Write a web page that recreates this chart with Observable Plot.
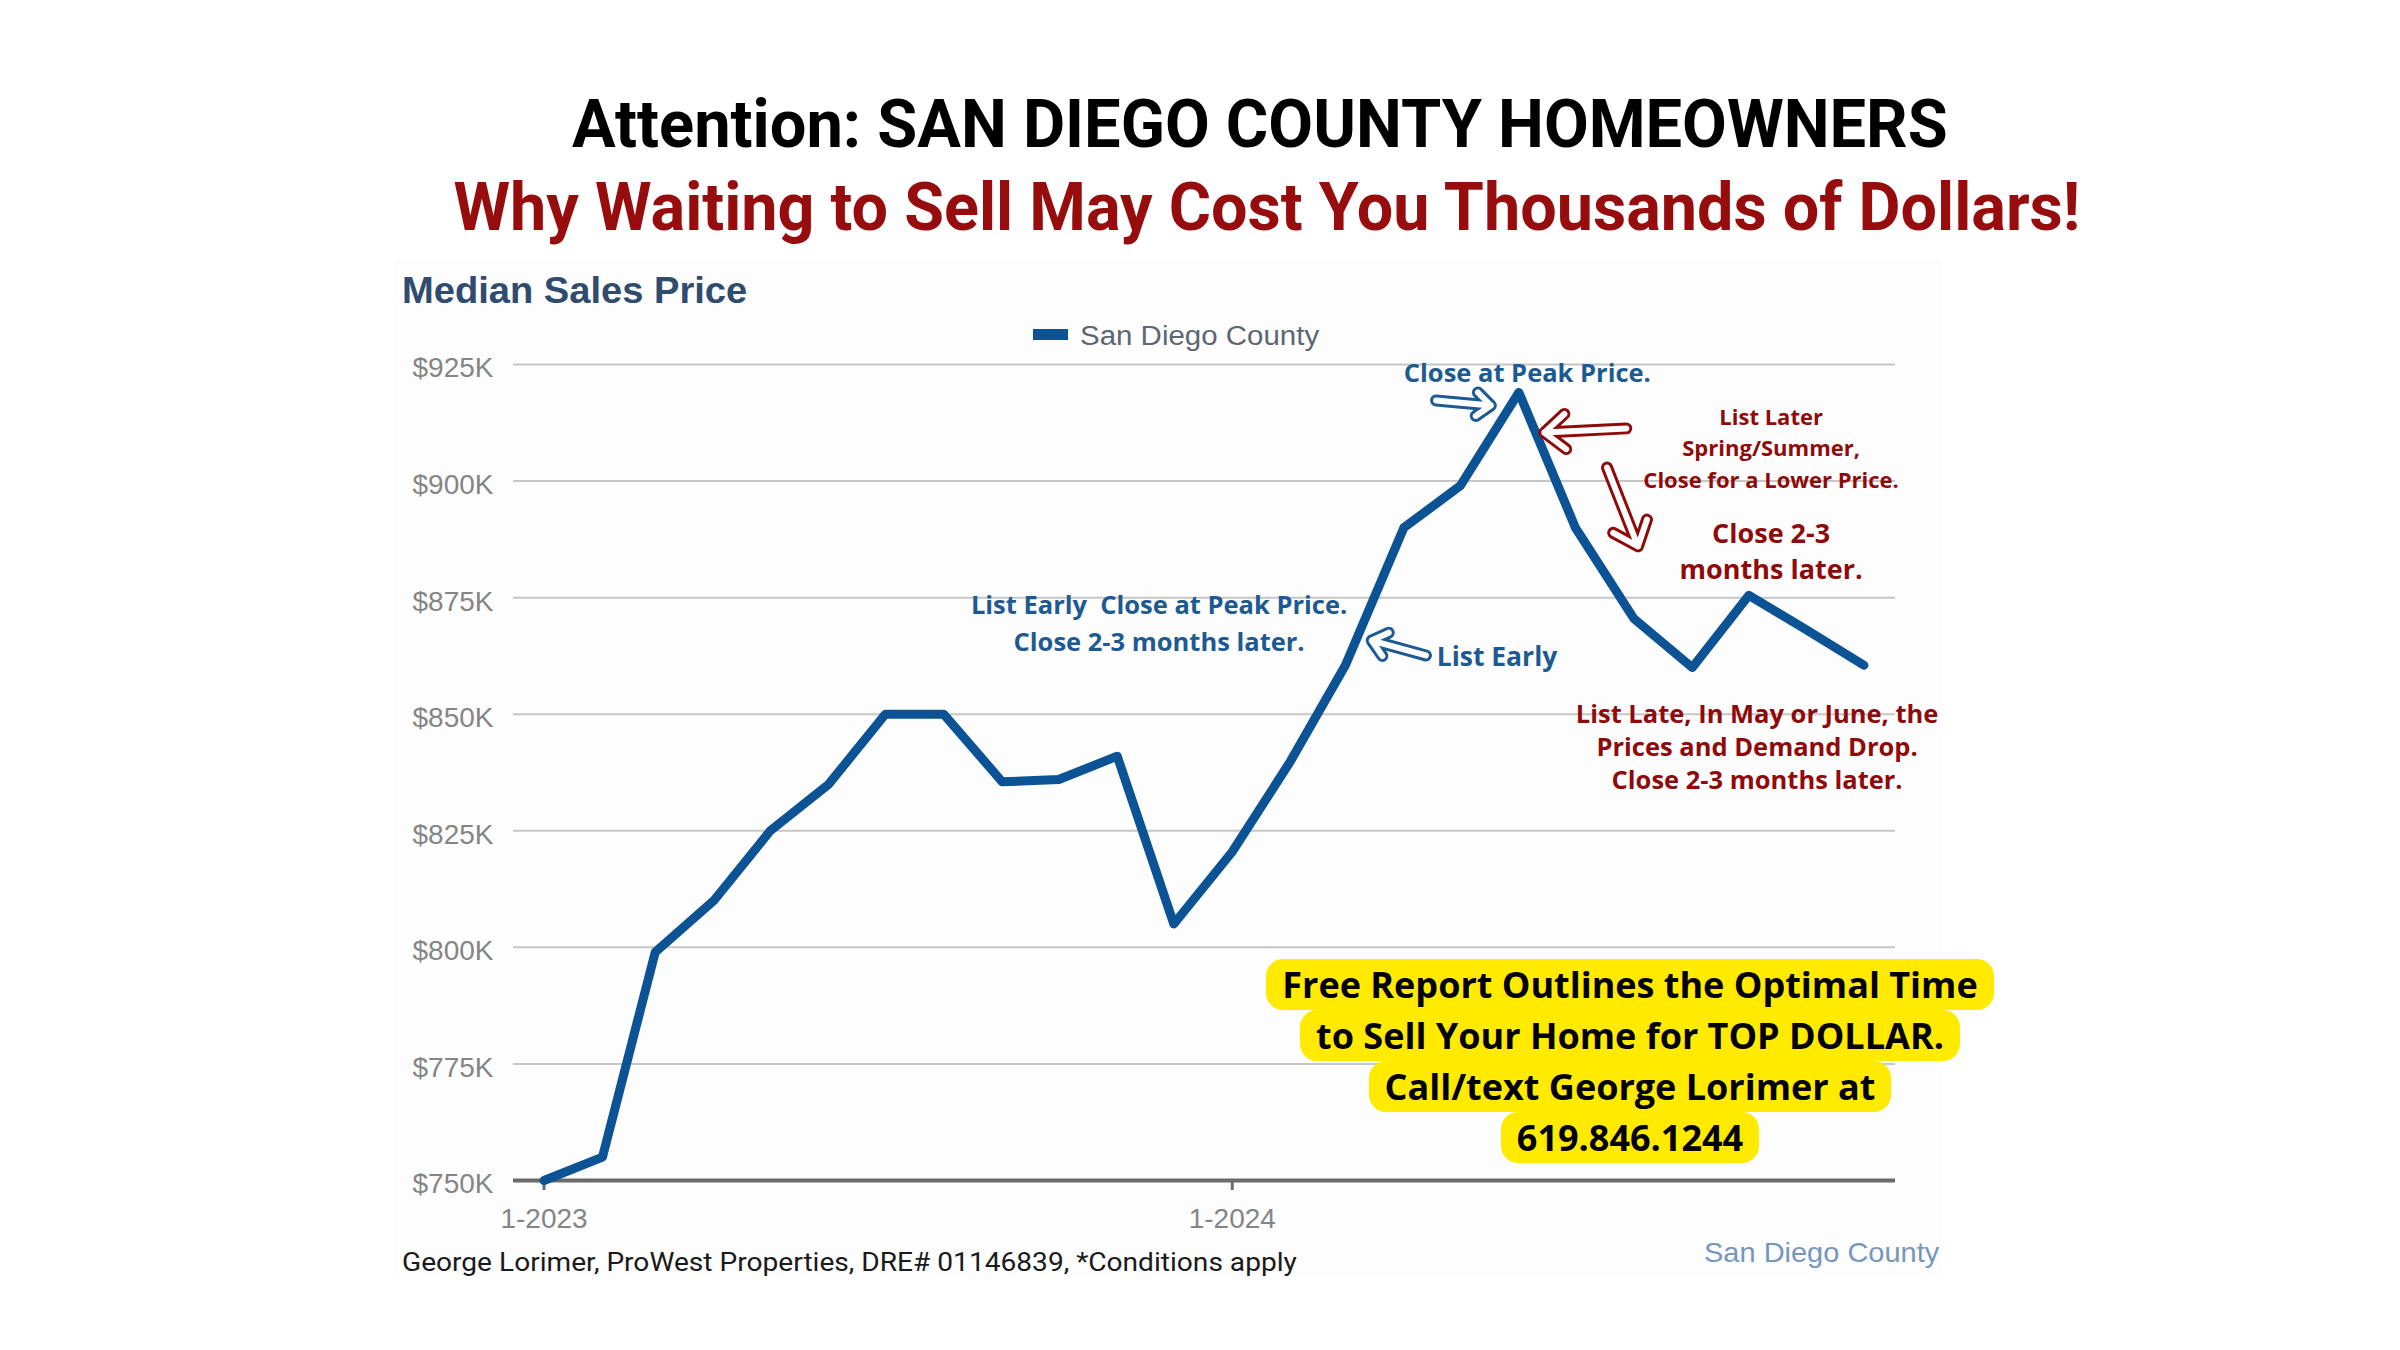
<!DOCTYPE html>
<html>
<head>
<meta charset="utf-8">
<script src="https://cdn.jsdelivr.net/npm/d3@7"></script>
<script src="https://cdn.jsdelivr.net/npm/@observablehq/plot@0.6"></script>
<style>
  html, body { margin: 0; padding: 0; background: #ffffff; }
  #page { position: relative; width: 2400px; height: 1350px; overflow: hidden; background: #ffffff; }
  #chart { position: absolute; left: 395px; top: 260px; }
  .abs { position: absolute; white-space: nowrap; line-height: 1; z-index: 2; }
  .fit { display: inline-block; }
  .c { transform-origin: center center; }
  .l { transform-origin: left center; }
  #promo { position: absolute; left: 1130px; width: 1000px; top: 959px; z-index: 3;
           display: flex; flex-direction: column; align-items: center; }
  #promo div { background: #ffea00; color: #000; font: 700 36px 'Open Sans', sans-serif;
               height: 51px; line-height: 51px; padding: 0 16px; border-radius: 17px; white-space: nowrap; }
</style>
</head>
<body>
<div id="page">
  <div id="chart"></div>

  <div class="abs" style="left:60px;width:2400px;text-align:center;top:86px;font:700 66px Roboto, sans-serif;color:#000;">
    <span class="fit c" data-w="1376">Attention: SAN DIEGO COUNTY HOMEOWNERS</span></div>
  <div class="abs" style="left:67px;width:2400px;text-align:center;top:169px;font:700 66px Roboto, sans-serif;color:#970d0d;">
    <span class="fit c" data-w="1627">Why Waiting to Sell May Cost You Thousands of Dollars!</span></div>

  <div class="abs" style="left:402px;top:270px;font:700 37px 'Liberation Sans', Arial, sans-serif;color:#2f4b6e;">
    <span class="fit l" data-w="345" id="chartTitle"></span></div>

  <div class="abs" style="left:1033px;top:329px;width:35px;height:11px;background:#0b5394;"></div>
  <div class="abs" style="left:1080px;top:321px;font:400 27px 'Liberation Sans', Arial, sans-serif;color:#5d6673;">
    <span class="fit l" data-w="239" id="legendLabel"></span></div>

  <div class="abs" style="left:402px;top:1247px;font:400 26px Roboto, sans-serif;color:#1a1a1a;">
    <span class="fit l" data-w="895" id="footer"></span></div>
  <div class="abs" style="left:1704px;top:1237px;font:400 28px 'Liberation Sans', Arial, sans-serif;color:#7696bd;">
    <span class="fit l" data-w="235" id="source"></span></div>

  <div id="promo"></div>
</div>

<script>
// ---------- data ----------
const chartTitle = "Median Sales Price";
const seriesName = "San Diego County";
const months = ["2023-01","2023-02","2023-03","2023-04","2023-05","2023-06",
                "2023-07","2023-08","2023-09","2023-10","2023-11","2023-12",
                "2024-01","2024-02","2024-03","2024-04","2024-05","2024-06",
                "2024-07","2024-08","2024-09","2024-10","2024-11","2024-12"];
const medianPrice = [750000, 755000, 799000, 810000, 825000, 835000,
                     850000, 850000, 835500, 836000, 841000, 805000,
                     820500, 840000, 860500, 890000, 899000, 919000,
                     890000, 870500, 860000, 875500, 868000, 860500];
const yTickValues = [750000, 775000, 800000, 825000, 850000, 875000, 900000, 925000];
const xTickMonths = ["2023-01", "2024-01"];
const xTickLabels = ["1-2023", "1-2024"];
const footerText = "George Lorimer, ProWest Properties, DRE# 01146839, *Conditions apply";
const promoLines = ["Free Report Outlines the Optimal Time",
                    "to Sell Your Home for TOP DOLLAR.",
                    "Call/text George Lorimer at",
                    "619.846.1244"];
const notePeak = "Close at Peak Price.";
const noteEarlyBlock = "List Early\u00a0 Close at Peak Price.\nClose 2-3 months later.";
const noteListEarly = "List Early";
const noteListLater = "List Later\nSpring/Summer,\nClose for a Lower Price.";
const noteClose23 = "Close 2-3\nmonths later.";
const noteListLate = "List Late, In May or June, the\nPrices and Demand Drop.\nClose 2-3 months later.";

// ---------- build ----------
const parseMonth = d3.utcParse("%Y-%m");
const data = months.map((m, i) => ({date: parseMonth(m), value: medianPrice[i]}));
const xTicks = xTickMonths.map(parseMonth);
const labelOf = new Map(xTickMonths.map((m, i) => [+parseMonth(m), xTickLabels[i]]));
// fractional month offset from Jan 2023 -> date (for annotation placement)
const mo = m => { const f = Math.floor(m); const a = Date.UTC(2023, f, 1), b = Date.UTC(2023, f + 1, 1); return new Date(a + (m - f) * (b - a)); };

const BLUE = "#1d5a92", RED = "#8f0b0b", LINE = "#0b5394";
const arrowsBlue = [{m1: 15.57, v1: 917300, m2: 16.52, v2: 916200},
                    {m1: 15.39, v1: 862600, m2: 14.45, v2: 865800}];
const arrowsRed  = [{m1: 18.87, v1: 911300, m2: 17.45, v2: 910400},
                    {m1: 18.54, v1: 902900, m2: 19.07, v2: 886000}];
const arrowOpts = (color, w) => ({x1: d => mo(d.m1), y1: "v1", x2: d => mo(d.m2), y2: "v2",
                                  stroke: color, strokeWidth: w, headLength: 8, headAngle: 80});
const note = (m, v, text, o) => Plot.text([text], {x: () => mo(m), y: () => v, text: d => d,
  fontFamily: "'Open Sans', sans-serif", fontWeight: 700, ...o});

const plot = Plot.plot({
  width: 1546, height: 1018,
  marginLeft: 118, marginRight: 46, marginTop: 104, marginBottom: 98,
  style: {background: "#fdfdfd", fontFamily: "'Liberation Sans', Arial, sans-serif"},
  x: {type: "utc", domain: [mo(-0.522), mo(23.54)]},
  y: {domain: [750000, 925000]},
  marks: [
    Plot.gridY(yTickValues, {stroke: "#c6c6c6", strokeOpacity: 1, strokeWidth: 2}),
    Plot.axisY(yTickValues, {tickSize: 0, tickPadding: 20, fontSize: 28, fill: "#858585", dy: 4,
      tickFormat: d => "$" + (d / 1000) + "K", label: null}),
    Plot.axisX(xTicks, {tickSize: 10, tickPadding: 18, fontSize: 28, fill: "#858585",
      stroke: "#6b6b6b", strokeWidth: 3, tickFormat: d => labelOf.get(+d), label: null}),
    Plot.ruleY([750000], {stroke: "#6b6b6b", strokeWidth: 4}),
    Plot.line(data, {x: "date", y: "value", stroke: LINE, strokeWidth: 9}),
    Plot.arrow(arrowsBlue, arrowOpts(BLUE, 12)),
    Plot.arrow(arrowsBlue, arrowOpts("#ffffff", 6)),
    Plot.arrow(arrowsRed, arrowOpts(RED, 12)),
    Plot.arrow(arrowsRed, arrowOpts("#ffffff", 6)),
    note(17.15, 922900, notePeak, {fill: BLUE, fontSize: 25.5}),
    note(10.74, 870000, noteEarlyBlock, {fill: BLUE, fontSize: 25.5, lineHeight: 1.42}),
    note(15.58, 862200, noteListEarly, {fill: BLUE, fontSize: 26.5, textAnchor: "start"}),
    note(21.38, 907500, noteListLater, {fill: RED, fontSize: 22, lineHeight: 1.43}),
    note(21.38, 885300, noteClose23, {fill: RED, fontSize: 27, lineHeight: 1.33}),
    note(21.14, 843300, noteListLate, {fill: RED, fontSize: 25.5, lineHeight: 1.3})
  ]
});
document.getElementById("chart").appendChild(plot);

document.getElementById("chartTitle").textContent = chartTitle;
document.getElementById("legendLabel").textContent = seriesName;
document.getElementById("source").textContent = seriesName;
document.getElementById("footer").textContent = footerText;
const promo = document.getElementById("promo");
promoLines.forEach(t => { const d = document.createElement("div"); d.textContent = t; promo.appendChild(d); });

function fit() {
  document.querySelectorAll(".fit[data-w]").forEach(el => {
    const w = el.offsetWidth;
    if (w > 0) el.style.transform = `scaleX(${(+el.dataset.w / w).toFixed(4)})`;
  });
}
fit();
if (document.fonts && document.fonts.ready) document.fonts.ready.then(fit);
</script>
</body>
</html>
